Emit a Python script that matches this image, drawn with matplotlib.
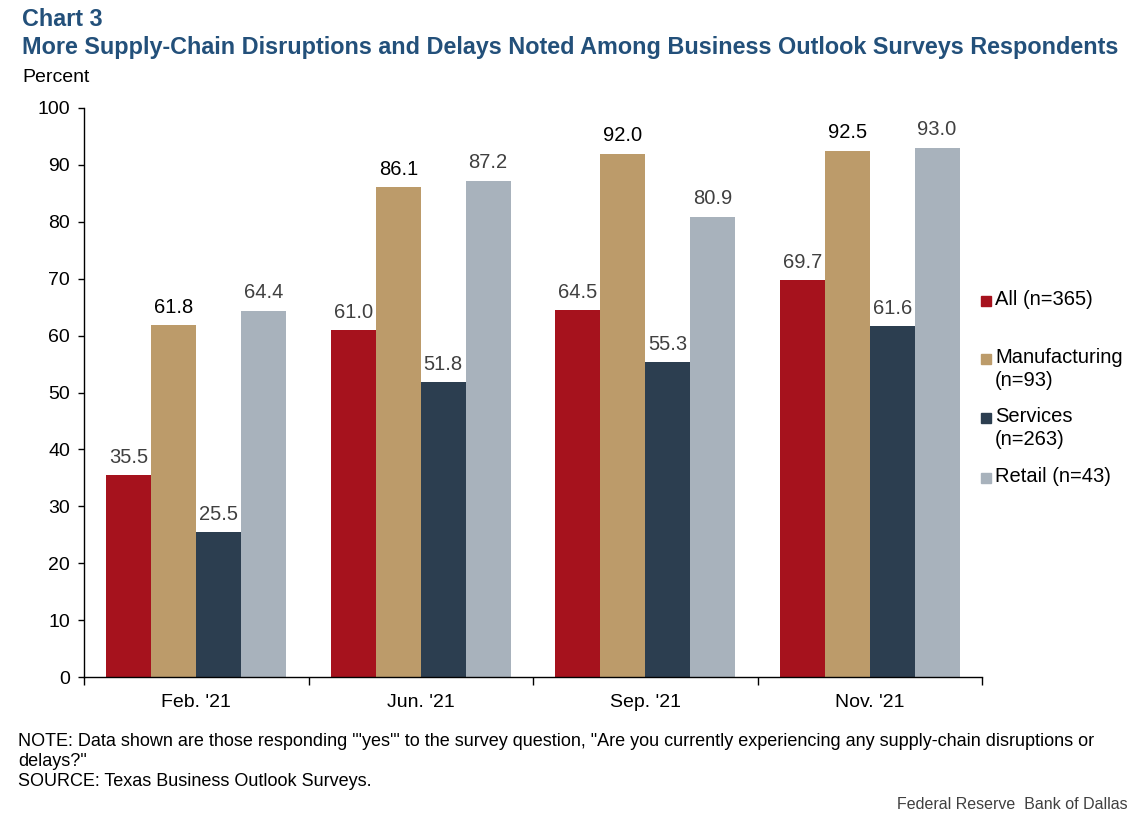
import numpy as np
import matplotlib.pyplot as plt
from matplotlib.patches import Rectangle

plt.rcParams['font.family'] = ['Liberation Sans', 'DejaVu Sans']

# data
periods = ["Feb. '21", "Jun. '21", "Sep. '21", "Nov. '21"]
series_names = ['All (n=365)', 'Manufacturing\n(n=93)', 'Services\n(n=263)', 'Retail (n=43)']
all_resp = [35.5, 61.0, 64.5, 69.7]
manufacturing = [61.8, 86.1, 92.0, 92.5]
services = [25.5, 51.8, 55.3, 61.6]
retail = [64.4, 87.2, 80.9, 93.0]

colors = ['#A6121D', '#BC9B6A', '#2C3E50', '#A8B2BC']
label_colors = ['#404040', '#000000', '#404040', '#404040']
title_col = '#23507A'

W, H = 1137, 825
fig = plt.figure(figsize=(W / 100, H / 100), dpi=100)
ax = fig.add_axes([84 / W, 1 - 677 / H, (982 - 84) / W, (677 - 108) / H])

x = np.arange(len(periods))
bw = 0.2
all_series = [all_resp, manufacturing, services, retail]
for i, vals in enumerate(all_series):
    pos = x - 0.5 + 0.1 + bw * (i + 0.5)
    bars = ax.bar(pos, vals, bw, color=colors[i], linewidth=0)
    for b, v in zip(bars, vals):
        ax.annotate(f'{v:.1f}', (b.get_x() + b.get_width() / 2, v),
                    xytext=(0, 6), textcoords='offset points',
                    ha='center', va='bottom', fontsize=14.5, color=label_colors[i])

ax.set_xlim(-0.5, len(periods) - 0.5)
ax.set_ylim(0, 100)
ax.set_yticks(np.arange(0, 101, 10))
ax.tick_params(axis='y', labelsize=14, length=4, width=1, pad=6)
ax.set_xticks(np.arange(-0.5, len(periods), 1))
ax.set_xticklabels([])
ax.set_xticks(x, minor=True)
ax.set_xticklabels(periods, minor=True)
ax.tick_params(axis='x', which='major', length=6, width=1, direction='out')
ax.tick_params(axis='x', which='minor', length=0, labelsize=14, pad=12)
for s in ['top', 'right']:
    ax.spines[s].set_visible(False)
for s in ['left', 'bottom']:
    ax.spines[s].set_linewidth(1)

# legend drawn by hand so the swatch sits on the first line
leg_y = [301, 359, 418, 478]
for i, name in enumerate(series_names):
    yc = leg_y[i]
    fig.patches.append(Rectangle((981 / W, 1 - (yc + 5) / H), 10 / W, 10 / H,
                                 transform=fig.transFigure, color=colors[i], figure=fig))
    fig.text(995 / W, 1 - (yc - 11) / H, name, fontsize=14.5, va='top', ha='left',
             linespacing=1.28)

fig.text(22 / W, 1 - 8 / H, 'Chart 3', fontsize=16.8, fontweight='bold',
         color=title_col, va='top')
fig.text(22 / W, 1 - 36 / H,
         'More Supply-Chain Disruptions and Delays Noted Among Business Outlook Surveys Respondents',
         fontsize=16.8, fontweight='bold', color=title_col, va='top')
fig.text(22 / W, 1 - 69 / H, 'Percent', fontsize=14, va='top')

fig.text(18 / W, 1 - 733 / H,
         'NOTE: Data shown are those responding "\'yes\'" to the survey question, "Are you currently '
         'experiencing any supply-chain disruptions or\ndelays?"\nSOURCE: Texas Business Outlook Surveys.',
         fontsize=13, va='top', linespacing=1.22)
fig.text(1128 / W, 1 - 797 / H, 'Federal Reserve  Bank of Dallas', fontsize=11.5,
         va='top', ha='right', color='#404040')

fig.savefig('out.png', dpi=100)
